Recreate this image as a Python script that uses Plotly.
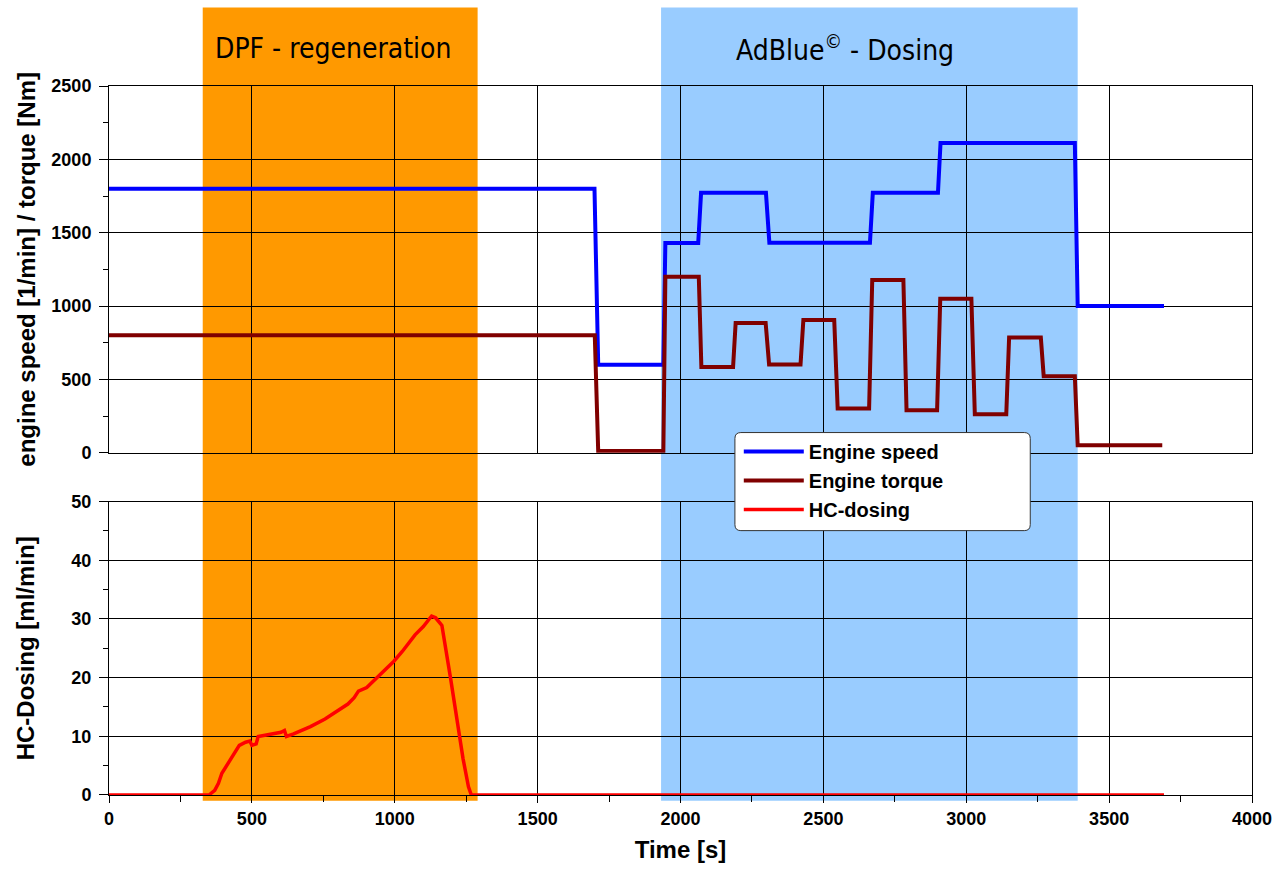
import plotly.graph_objects as go

# ---------------- data ----------------
speed_t = [0, 1699, 1712, 1940, 1947, 2062, 2072, 2299, 2311, 2663, 2673, 2901, 2910, 3380, 3390, 3692]
speed_v = [1800, 1800, 600, 600, 1430, 1430, 1772, 1772, 1432, 1432, 1772, 1772, 2112, 2112, 1000, 1000]

torque_t = [0, 1700, 1712, 1940, 1947, 2064, 2073, 2184, 2193, 2298, 2310, 2420, 2430, 2538,
            2550, 2660, 2671, 2780, 2791, 2898, 2909, 3018, 3030, 3140, 3150, 3261, 3271, 3380, 3390, 3686]
torque_v = [800, 800, 12, 12, 1200, 1200, 585, 585, 885, 885, 602, 602, 905, 905,
            302, 302, 1178, 1178, 290, 290, 1050, 1050, 262, 262, 785, 785, 522, 522, 50, 50]

hc_t = [0, 350, 370, 383, 395, 420, 456, 478, 493, 500, 515, 522, 559, 602, 614, 621, 646, 705,
        756, 793, 836, 858, 873, 902, 939, 968, 997, 1027, 1071, 1100, 1129, 1143, 1165, 1195,
        1217, 1239, 1258, 1268, 3692]
hc_v = [0, 0, 0.8, 2.0, 3.7, 5.6, 8.45, 9.0, 9.2, 8.45, 8.7, 9.97, 10.25, 10.7, 11.0, 9.97, 10.4, 11.66,
        12.96, 14.08, 15.5, 16.6, 17.7, 18.3, 20.0, 21.4, 22.8, 24.5, 27.3, 28.7, 30.5, 30.2, 28.9, 20.0,
        12.7, 6.2, 1.4, 0, 0]

dpf_window = [328, 1290]
adblue_window = [1932, 3390]
region_labels = ["DPF - regeneration", "AdBlue<sup>©</sup> - Dosing"]
region_label_x = [785, 2575]

x_ticks = [0, 500, 1000, 1500, 2000, 2500, 3000, 3500, 4000]

# ---------------- figure ----------------
FONT = "Liberation Sans"
NARROW = "Noto Sans Condensed, DejaVu Sans Condensed, Liberation Sans Narrow, Liberation Sans"
fig = go.Figure()

fig.add_trace(go.Scatter(x=speed_t, y=speed_v, mode="lines", name="Engine speed",
                         line=dict(color="#0000FF", width=4), xaxis="x2", yaxis="y2"))
fig.add_trace(go.Scatter(x=torque_t, y=torque_v, mode="lines", name="Engine torque",
                         line=dict(color="#800000", width=4), xaxis="x2", yaxis="y2"))
fig.add_trace(go.Scatter(x=hc_t, y=hc_v, mode="lines", name="HC-dosing",
                         line=dict(color="#FF0000", width=3.5), xaxis="x", yaxis="y"))

tickfont = dict(family=FONT, size=18, color="black", weight="bold")
titlefont = dict(family=FONT, size=24, color="black", weight="bold")

axis_common = dict(showline=True, linecolor="black", linewidth=1, mirror=True,
                   showgrid=True, gridcolor="black", gridwidth=1, zeroline=False,
                   tickcolor="black", tickfont=tickfont)

fig.update_layout(
    width=1284, height=870,
    margin=dict(l=109, r=24, t=86, b=68),
    paper_bgcolor="white",
    plot_bgcolor="rgba(0,0,0,0)",
    showlegend=True,
    xaxis=dict(range=[0, 4000], tickvals=x_ticks, ticks="outside", ticklen=7,
               domain=[0, 1], anchor="y", ticklabeloverflow="allow",
               minor=dict(dtick=250, ticks="outside", ticklen=6, tickcolor="black", showgrid=False),
               title=dict(text="Time [s]", font=titlefont, standoff=13), **axis_common),
    yaxis=dict(range=[0, 50], dtick=10, ticks="outside", ticklen=9, domain=[0, 0.4138],
               anchor="x", ticklabelstandoff=4,
               minor=dict(dtick=5, ticks="outside", ticklen=5, tickcolor="black", showgrid=False),
               title=dict(text="HC-Dosing [ml/min]", font=titlefont, standoff=29), **axis_common),
    xaxis2=dict(range=[0, 4000], tickvals=x_ticks, ticks="", showticklabels=False,
                matches="x", anchor="y2", domain=[0, 1], **axis_common),
    yaxis2=dict(range=[0, 2500], dtick=500, ticks="outside", ticklen=9, domain=[0.4828, 1],
                anchor="x2", ticklabelstandoff=4,
                minor=dict(dtick=250, ticks="outside", ticklen=5, tickcolor="black", showgrid=False),
                title=dict(text="engine speed [1/min] / torque [Nm]", font=titlefont, standoff=8),
                **axis_common),
    legend=dict(x=0.551, y=0.512, xanchor="left", yanchor="top",
                bgcolor="rgba(0,0,0,0)", borderwidth=0, itemwidth=60,
                font=dict(family=FONT, size=20, color="black", weight="bold"),
                tracegroupgap=0),
)

# shaded regions
for (x0, x1), col in zip([dpf_window, adblue_window], ["#FF9900", "#99CCFF"]):
    fig.add_shape(type="rect", xref="x", yref="paper", x0=x0, x1=x1, y0=-0.008, y1=1.1108,
                  fillcolor=col, line=dict(width=0), layer="below")

# legend box (rounded)
x0, x1, y0, y1 = 0.5476, 0.806, 0.3729, 0.5112
rx, ry = 0.0052, 0.0084
path = (f"M{x0+rx},{y1} L{x1-rx},{y1} Q{x1},{y1} {x1},{y1-ry} L{x1},{y0+ry} Q{x1},{y0} {x1-rx},{y0} "
        f"L{x0+rx},{y0} Q{x0},{y0} {x0},{y0+ry} L{x0},{y1-ry} Q{x0},{y1} {x0+rx},{y1} Z")
fig.add_shape(type="path", xref="paper", yref="paper", path=path,
              fillcolor="white", line=dict(color="#333333", width=1), layer="above")

for txt, xv in zip(region_labels, region_label_x):
    fig.add_annotation(text=txt, x=xv, xref="x", y=1.053, yref="paper",
                       xanchor="center", yanchor="middle", showarrow=False,
                       font=dict(family=NARROW, size=28, color="black"))

# remove the default 8px page margin so the figure fills the 1284x870 window exactly
fig.write_html("out.html",
               config={"displayModeBar": False},
               post_script="document.body.style.margin='0';"
                           "document.documentElement.style.overflow='hidden';")
